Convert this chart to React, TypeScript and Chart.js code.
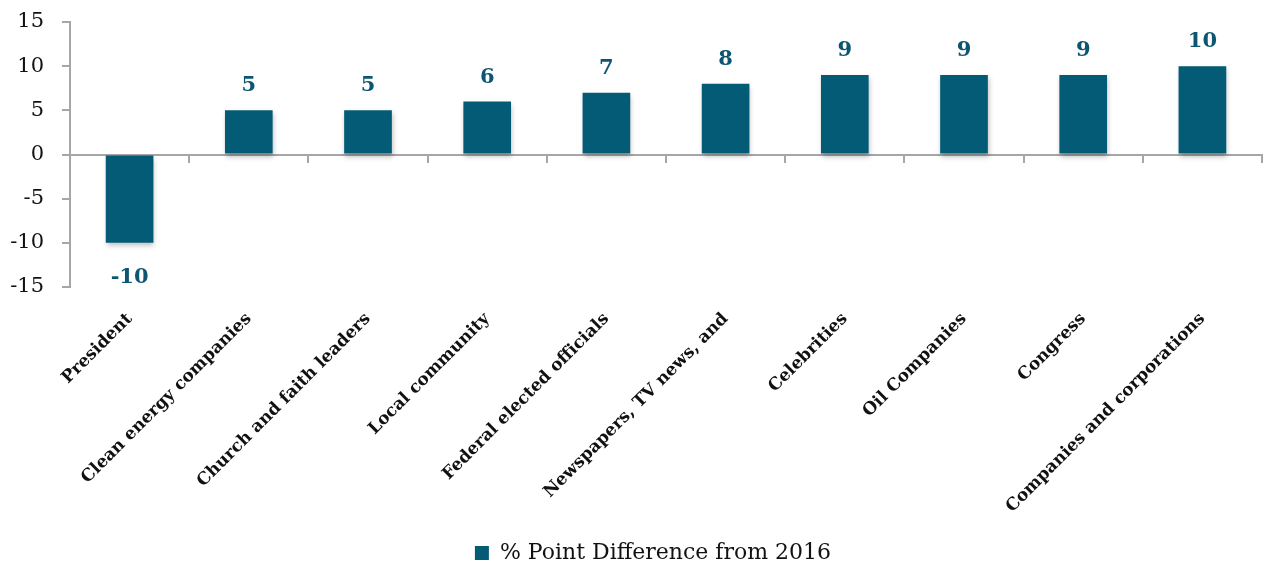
import React, { useEffect, useRef } from "react";
import { Chart, registerables } from "chart.js";

Chart.register(...registerables);

const categories = [
  "President",
  "Clean energy companies",
  "Church and faith leaders",
  "Local community",
  "Federal elected officials",
  "Newspapers, TV news, and",
  "Celebrities",
  "Oil Companies",
  "Congress",
  "Companies and corporations",
];
const values = [-10, 5, 5, 6, 7, 8, 9, 9, 9, 10];
const seriesName = "% Point Difference from 2016";
const yTicks = [-15, -10, -5, 0, 5, 10, 15];

const BAR = "#035b75";
const LABEL = "#0c5672";
const AXIS = "#a6a6a6";
const SERIF = "'DejaVu Serif', 'Liberation Serif', serif";

const valueLabels = {
  id: "valueLabels",
  afterDatasetsDraw(chart: any) {
    const ctx = chart.ctx;
    const meta = chart.getDatasetMeta(0);
    ctx.save();
    ctx.font = `bold 21px ${SERIF}`;
    ctx.fillStyle = LABEL;
    ctx.textAlign = "center";
    ctx.textBaseline = "alphabetic";
    meta.data.forEach((bar: any, i: number) => {
      const v = values[i];
      if (v >= 0) {
        ctx.fillText(String(v), bar.x, bar.y - 19);
      } else {
        ctx.fillText(String(v), bar.x, bar.y + 40);
      }
    });
    ctx.restore();
  },
};

const barShadow = {
  id: "barShadow",
  beforeDatasetDraw(chart: any) {
    const ctx = chart.ctx;
    ctx.save();
    ctx.shadowColor = "rgba(0,0,0,0.25)";
    ctx.shadowBlur = 5;
    ctx.shadowOffsetX = 1;
    ctx.shadowOffsetY = 3;
  },
  afterDatasetDraw(chart: any) {
    chart.ctx.restore();
  },
};

const legendShift = {
  id: "legendShift",
  afterLayout(chart: any) {
    const lg = chart.legend;
    if (lg) {
      lg.left += 22;
      lg.right += 22;
    }
  },
};

export default function App() {
  const ref = useRef<HTMLCanvasElement>(null);
  useEffect(() => {
    if (!ref.current) return;
    const chart = new Chart(ref.current, {
      type: "bar",
      data: {
        labels: categories,
        datasets: [
          {
            label: seriesName,
            data: values,
            backgroundColor: BAR,
            borderWidth: 0,
            barPercentage: 0.4,
            categoryPercentage: 1,
            xAxisID: "x",
            yAxisID: "y",
          },
        ],
      },
      options: {
        animation: false,
        responsive: false,
        maintainAspectRatio: false,
        layout: { padding: { top: 0, right: 3, left: 0, bottom: -8 } },
        plugins: {
          legend: {
            position: "bottom",
            labels: {
              boxWidth: 14,
              boxHeight: 14,
              color: "#111",
              font: { family: SERIF, size: 22 },
              padding: 3,
            },
          },
          tooltip: { enabled: false },
        },
        scales: {
          x: {
            type: "category",
            position: "bottom",
            grid: { display: false, drawTicks: false },
            border: { display: false },
            afterFit: (s: any) => {
              s.height = 252;
            },
            ticks: {
              autoSkip: false,
              maxRotation: 45,
              minRotation: 45,
              color: "#111",
              font: { family: SERIF, size: 17, weight: "bold" },
              padding: 22,
            },
          },
          x2: {
            type: "category",
            labels: categories,
            position: { y: 0 },
            offset: true,
            afterFit: (s: any) => {
              s.height = 0;
            },
            grid: {
              display: true,
              drawOnChartArea: false,
              drawTicks: true,
              tickLength: 7,
              color: AXIS,
              lineWidth: 2,
              offset: true,
            },
            border: { display: true, color: AXIS, width: 2 },
            ticks: { display: false },
          },
          y: {
            min: -15,
            max: 15,
            afterBuildTicks: (s: any) => {
              s.ticks = yTicks.map((v) => ({ value: v }));
            },
            afterFit: (s: any) => {
              s.width = 70;
              s.paddingTop = 22;
              s.paddingBottom = 0;
            },
            grid: {
              display: true,
              drawOnChartArea: false,
              drawTicks: true,
              tickLength: 8,
              color: AXIS,
              lineWidth: 2,
            },
            border: { display: true, color: AXIS, width: 2 },
            ticks: {
              color: "#111",
              font: { family: SERIF, size: 21 },
              padding: 18,
            },
          },
        },
      } as any,
      plugins: [barShadow, valueLabels, legendShift],
    });
    return () => chart.destroy();
  }, []);
  return (
    <div style={{ position: "fixed", left: 0, top: 0, width: 1265, height: 566, background: "#fff" }}>
      <canvas ref={ref} width={1265} height={566} style={{ width: 1265, height: 566 }} />
    </div>
  );
}
